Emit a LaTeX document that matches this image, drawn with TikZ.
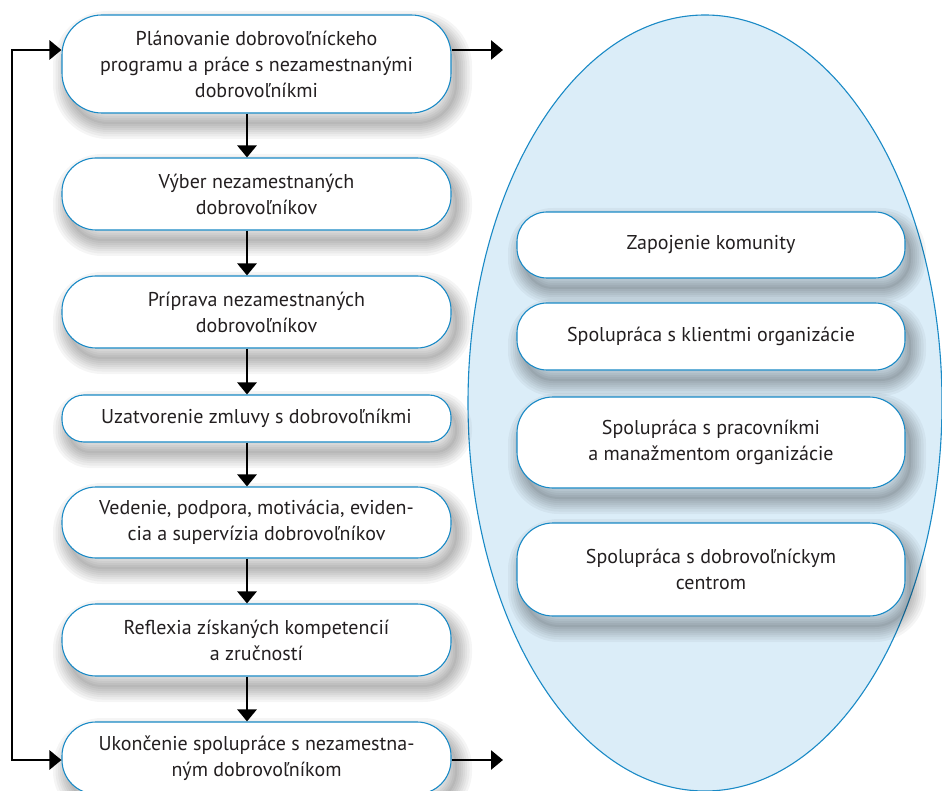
\documentclass[tikz,border=0pt]{standalone}
\usepackage{fontspec}
\setmainfont{PT Sans}
\usetikzlibrary{arrows.meta,calc}
\definecolor{boxblue}{HTML}{1A8AC6}
\definecolor{ellfill}{HTML}{DBEDF8}
\definecolor{txt}{HTML}{231F20}
\tikzset{
  shadowline/.style={preaction={draw=black, line width=#1, draw opacity=0.04,
      transform canvas={xshift=6pt, yshift=-11pt}}},
  shadowfill/.style={preaction={fill=black, fill opacity=0.05,
      transform canvas={xshift=6pt, yshift=-11pt}}},
  box/.style={draw=boxblue, line width=1.1pt, fill=white, align=center,
    text=txt, font=\fontsize{20}{26}\selectfont, inner sep=0pt,
    shadowfill, shadowline=30pt, shadowline=25pt, shadowline=20pt, shadowline=16pt,
    shadowline=12pt, shadowline=8pt, shadowline=4pt},
  lbox/.style={box, minimum width=389pt},
  rbox/.style={box, minimum width=388pt},
  arr/.style={line width=2.8pt, -{Triangle[length=12pt,width=19pt]}},
  arrtwo/.style={line width=2.8pt, {Triangle[length=12pt,width=19pt]}-{Triangle[length=12pt,width=19pt]}}
}
\begin{document}
\begin{tikzpicture}[x=1pt,y=-1pt]
\useasboundingbox (0,0) rectangle (942,791);
% ellipse
\draw[boxblue, line width=1.1pt, fill=ellfill] (705,403) ellipse [x radius=237pt, y radius=388pt];
% left column
\node[lbox, minimum height=98pt, rounded corners=40pt] (b1) at (256.5,64) {Plánovanie dobrovoľníckeho\\programu a práce s nezamestnanými\\dobrovoľníkmi};
\node[lbox, minimum height=72pt, rounded corners=34pt] (b2) at (256.5,194) {Výber nezamestnaných\\dobrovoľníkov};
\node[lbox, minimum height=72pt, rounded corners=34pt] (b3) at (256.5,312) {Príprava nezamestnaných\\dobrovoľníkov};
\node[lbox, minimum height=47pt, rounded corners=22pt] (b4) at (256.5,418.5) {Uzatvorenie zmluvy s dobrovoľníkmi};
\node[lbox, minimum height=71pt, rounded corners=34pt] (b5) at (256.5,522.5) {Vedenie, podpora, motivácia, eviden-\\cia a supervízia dobrovoľníkov};
\node[lbox, minimum height=72pt, rounded corners=34pt] (b6) at (256.5,640) {Reflexia získaných kompetencií\\a zručností};
\node[lbox, minimum height=72pt, rounded corners=34pt] (b7) at (256.5,758) {Ukončenie spolupráce s nezamestna-\\ným dobrovoľníkom};
% right column
\node[rbox, minimum height=66pt, rounded corners=30pt] (r1) at (711,245) {Zapojenie komunity};
\node[rbox, minimum height=67pt, rounded corners=30pt] (r2) at (711,336.5) {Spolupráca s klientmi organizácie};
\node[rbox, minimum height=91pt, rounded corners=36pt] (r3) at (711,442.5) {Spolupráca s pracovníkmi\\a manažmentom organizácie};
\node[rbox, minimum height=93pt, rounded corners=36pt] (r4) at (711,569.5) {Spolupráca s dobrovoľníckym\\centrom};
% vertical arrows
\foreach \a/\b in {b1/b2,b2/b3,b3/b4,b4/b5,b5/b6,b6/b7}{
  \draw[arr] ([xshift=-9.5pt]\a.south) -- ([xshift=-9.5pt]\b.north);
}
% outgoing arrows
\coordinate (o1) at (503,50);
\coordinate (o7) at (503,760);
\draw[arr] ([yshift=14pt]b1.east) -- (o1);
\draw[arr] ([yshift=-2pt]b7.east) -- (o7);
% loop
\coordinate (lp) at (12,400);
\draw[arrtwo] ([yshift=14pt]b1.west) -| (lp) |- ([yshift=-2pt]b7.west);
\end{tikzpicture}
\end{document}
